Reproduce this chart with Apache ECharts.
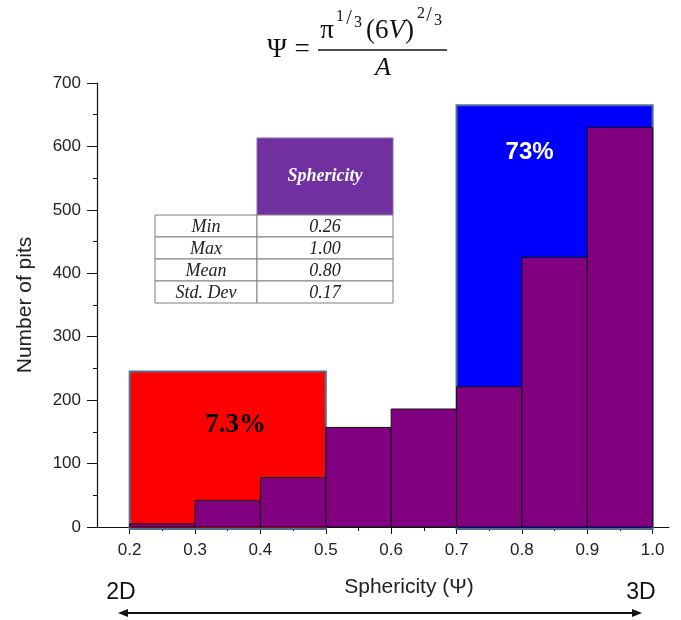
<!DOCTYPE html>
<html><head><meta charset="utf-8">
<script src="https://cdn.jsdelivr.net/npm/echarts@6/dist/echarts.min.js"></script>
<style>html,body{margin:0;padding:0;background:#fff}#c{width:681px;height:620px}</style>
</head><body><div id="c"></div>
<script>
// ---- data ----
const binEdges = [0.2, 0.3, 0.4, 0.5, 0.6, 0.7, 0.8, 0.9, 1.0];
const binCounts = [5, 42, 78, 157, 186, 221, 425, 630];
const regionStart = [0.2, 0.7];
const regionEnd = [0.5, 1.0];
const regionHeight = [245, 665];
const regionLabel = ['7.3%', '73%'];
const xTickLabels = [0.2, 0.3, 0.4, 0.5, 0.6, 0.7, 0.8, 0.9, 1.0];
const xMinorTicks = [0.25, 0.35, 0.45, 0.55, 0.65, 0.75, 0.85, 0.95];
const tableHeader = 'Sphericity';
const tableRowNames = ['Min', 'Max', 'Mean', 'Std. Dev'];
const tableRowValues = ['0.26', '1.00', '0.80', '0.17'];

// ---- styles ----
const SANS = '"Liberation Sans", Arial, sans-serif';
const SERIF = '"Liberation Serif", "DejaVu Serif", serif';
const regionFill = ['#ff0000', '#0000ff'];
const regionText = [
  {color: '#000', font: 'bold 27px ' + SERIF, dx: 8, dy: 53},
  {color: '#fff', font: 'bold 24px ' + SANS, dx: -25, dy: 47}
];

const chart = echarts.init(document.getElementById('c'), null, {renderer: 'canvas'});

const barData = binCounts.map((c, i) => [binEdges[i], binEdges[i + 1], c]);
const regionData = regionHeight.map((h, i) => [regionStart[i], regionEnd[i], h, i]);

// table graphics
const tbl = [];
const tx0 = 155, tcol = 257, tx1 = 393, thy = 138, try0 = 215, rh = 22;
tbl.push({type: 'rect', shape: {x: tcol, y: thy, width: tx1 - tcol, height: try0 - thy},
  style: {fill: '#7030a0', stroke: '#8a6aa8', lineWidth: 1}});
tbl.push({type: 'text', x: (tcol + tx1) / 2, y: (thy + try0) / 2,
  style: {text: tableHeader, font: 'bold italic 18px ' + SERIF, fill: '#fff', align: 'center', verticalAlign: 'middle'}});
tableRowNames.forEach((n, i) => {
  const y = try0 + i * rh;
  tbl.push({type: 'rect', shape: {x: tx0, y: y, width: tcol - tx0, height: rh}, style: {fill: '#fff', stroke: '#808080', lineWidth: 1}});
  tbl.push({type: 'rect', shape: {x: tcol, y: y, width: tx1 - tcol, height: rh}, style: {fill: '#fff', stroke: '#808080', lineWidth: 1}});
  tbl.push({type: 'text', x: (tx0 + tcol) / 2, y: y + rh / 2 + 1,
    style: {text: n, font: 'italic 18px ' + SERIF, fill: '#222', align: 'center', verticalAlign: 'middle'}});
  tbl.push({type: 'text', x: (tcol + tx1) / 2, y: y + rh / 2 + 1,
    style: {text: tableRowValues[i], font: 'italic 18px ' + SERIF, fill: '#222', align: 'center', verticalAlign: 'middle'}});
});

// formula graphics
const F = SERIF;
const mk = (x, y, text, size, italic) => ({type: 'text', x: x, y: y,
  style: {text: text, font: (italic ? 'italic ' : '') + size + 'px ' + F, fill: '#111', align: 'center', verticalAlign: 'middle'}});
const formula = [
  mk(277, 50, 'Ψ', 27),
  mk(302, 50, '=', 27),
  mk(327, 31, 'π', 27),
  mk(340, 17, '1', 16),
  mk(349, 19, '/', 20),
  mk(358, 23, '3', 16),
  {type: 'text', x: 390, y: 31, style: {rich: {a: {font: '27px ' + F, fill: '#111'}, v: {font: 'italic 27px ' + F, fill: '#111'}},
    text: '{a|(6}{v|V}{a|)}', align: 'center', verticalAlign: 'middle'}},
  mk(421, 14, '2', 16),
  mk(429, 16, '/', 20),
  mk(438, 21, '3', 16),
  {type: 'line', shape: {x1: 318, y1: 50, x2: 447, y2: 50}, style: {stroke: '#111', lineWidth: 1.5}},
  mk(383, 68, 'A', 26, true)
];

// bottom arrow + 2D/3D
const bottom = [
  {type: 'text', x: 121, y: 593, style: {text: '2D', font: '23px ' + SANS, fill: '#111', align: 'center', verticalAlign: 'middle'}},
  {type: 'text', x: 641, y: 593, style: {text: '3D', font: '23px ' + SANS, fill: '#111', align: 'center', verticalAlign: 'middle'}},
  {type: 'line', shape: {x1: 122, y1: 613, x2: 638, y2: 613}, style: {stroke: '#111', lineWidth: 2}},
  {type: 'polygon', shape: {points: [[118, 613], [128, 609], [128, 617]]}, style: {fill: '#111'}},
  {type: 'polygon', shape: {points: [[642, 613], [632, 609], [632, 617]]}, style: {fill: '#111'}}
];

const option = {
  animation: false,
  backgroundColor: '#fff',
  grid: {left: 97, right: 12, top: 83, bottom: 93, containLabel: false},
  xAxis: [{
    type: 'value', min: 0.15, max: 1.025, position: 'bottom',
    name: 'Sphericity (Ψ)', nameLocation: 'middle', nameGap: 50,
    nameTextStyle: {fontFamily: SANS, fontSize: 21, color: '#222', padding: [0, 0, 0, 52]},
    axisLine: {show: true, onZero: false, lineStyle: {color: '#111', width: 1.2}},
    axisTick: {show: true, customValues: xTickLabels, length: 7, lineStyle: {color: '#111'}},
    axisLabel: {show: true, customValues: xTickLabels, margin: 15, fontFamily: SANS, fontSize: 17, color: '#222',
      formatter: v => v.toFixed(1)},
    splitLine: {show: false}
  }, {
    type: 'value', min: 0.15, max: 1.025, position: 'bottom', offset: 0,
    axisLine: {show: false},
    axisTick: {show: true, customValues: xMinorTicks, length: 4, lineStyle: {color: '#111'}},
    axisLabel: {show: false},
    splitLine: {show: false}
  }],
  yAxis: {
    type: 'value', min: 0, max: 700, interval: 100,
    name: 'Number of pits', nameLocation: 'middle', nameGap: 61,
    nameTextStyle: {fontFamily: SANS, fontSize: 21, color: '#222'},
    axisLine: {show: true, lineStyle: {color: '#111', width: 1.2}},
    axisTick: {show: true, length: 10, lineStyle: {color: '#111'}},
    minorTick: {show: true, splitNumber: 2, length: 4, lineStyle: {color: '#111'}},
    axisLabel: {margin: 16, fontFamily: SANS, fontSize: 17, color: '#222'},
    splitLine: {show: false}
  },
  series: [{
    type: 'custom', name: 'regions', data: regionData, encode: {x: [0, 1], y: 2}, z: 1,
    renderItem: (params, api) => {
      const i = api.value(3);
      const p0 = api.coord([api.value(0), api.value(2)]);
      const p1 = api.coord([api.value(1), 0]);
      const w = p1[0] - p0[0], h = p1[1] - p0[1];
      const t = regionText[i];
      return {type: 'group', children: [
        {type: 'rect', shape: {x: p0[0], y: p0[1], width: w, height: h + 2},
          style: {fill: regionFill[i], stroke: '#4f6f95', lineWidth: 2}},
        {type: 'text', x: p0[0] + w / 2 + t.dx, y: p0[1] + t.dy,
          style: {text: regionLabel[i], font: t.font, fill: t.color, align: 'center', verticalAlign: 'middle'}}
      ]};
    }
  }, {
    type: 'custom', name: 'histogram', data: barData, encode: {x: [0, 1], y: 2}, z: 2,
    renderItem: (params, api) => {
      const p0 = api.coord([api.value(0), api.value(2)]);
      const p1 = api.coord([api.value(1), 0]);
      return {type: 'rect', shape: {x: p0[0], y: p0[1], width: p1[0] - p0[0], height: p1[1] - p0[1]},
        style: {fill: '#800080', stroke: '#111', lineWidth: 1}};
    }
  }],
  graphic: [].concat(formula, tbl, bottom)
};
chart.setOption(option);
</script></body></html>
